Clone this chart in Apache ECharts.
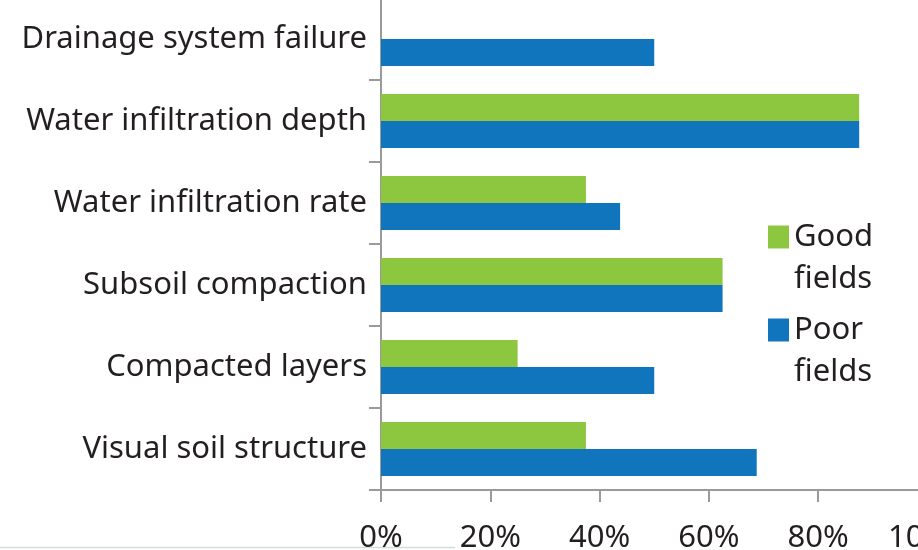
<!DOCTYPE html>
<html>
<head>
<meta charset="utf-8">
<script src="https://cdn.jsdelivr.net/npm/echarts@6/dist/echarts.min.js"></script>
<style>
  html, body { margin: 0; padding: 0; background: #ffffff; }
  #chart { width: 918px; height: 550px; }
</style>
</head>
<body>
<div id="chart"></div>
<script>
// Soil indicators, listed top to bottom
const categories = [
  'Drainage system failure',
  'Water infiltration depth',
  'Water infiltration rate',
  'Subsoil compaction',
  'Compacted layers',
  'Visual soil structure'
];
// Share of fields showing each problem (%)
const goodFields = [null, 87.5, 37.5, 62.5, 25, 37.5];
const poorFields = [50, 87.5, 43.75, 62.5, 50, 68.75];
const xTicks = [0, 20, 40, 60, 80, 100];

const GREEN = '#8DC63F';
const BLUE = '#1075BC';
const TEXT = '#231F20';
const AXIS = '#9a9a9a';
const FONT = '"Noto Sans", "Open Sans", sans-serif';

const chart = echarts.init(document.getElementById('chart'), null, { renderer: 'canvas' });

// Legend labels wrap onto two lines; a leading blank line keeps the
// first word level with the colour swatch.
const legendText = {
  color: TEXT,
  fontFamily: FONT,
  fontSize: 31,
  lineHeight: 42
};
const legendLabel = name => '\n' + name.replace(' ', '\n');

chart.setOption({
  animation: false,
  backgroundColor: '#ffffff',
  textStyle: { fontFamily: FONT },
  grid: {
    left: 381, width: 546.5, top: -2, bottom: 60,
    containLabel: false,
    outerBoundsMode: 'none'
  },
  legend: [
    {
      data: ['Good fields'],
      orient: 'vertical',
      left: 768, top: 174, padding: 0,
      icon: 'rect', itemWidth: 21, itemHeight: 23,
      formatter: legendLabel,
      textStyle: legendText,
      selectedMode: false
    },
    {
      data: ['Poor fields'],
      orient: 'vertical',
      left: 768, top: 267, padding: 0,
      icon: 'rect', itemWidth: 21, itemHeight: 23,
      formatter: legendLabel,
      textStyle: legendText,
      selectedMode: false
    }
  ],
  xAxis: {
    type: 'value',
    min: xTicks[0],
    max: xTicks[xTicks.length - 1],
    interval: 20,
    axisLine: { show: true, lineStyle: { color: AXIS, width: 2 } },
    axisTick: { show: true, length: 12, lineStyle: { color: AXIS, width: 2 } },
    splitLine: { show: false },
    axisLabel: {
      formatter: '{value}%',
      color: TEXT, fontSize: 31, fontFamily: FONT, margin: 33
    }
  },
  yAxis: {
    type: 'category',
    inverse: true,
    data: categories,
    axisLine: { show: true, lineStyle: { color: AXIS, width: 2 } },
    axisTick: { show: true, length: 12, lineStyle: { color: AXIS, width: 2 } },
    axisLabel: { color: TEXT, fontSize: 31, fontFamily: FONT, margin: 14 }
  },
  series: [
    {
      name: 'Good fields', type: 'bar', data: goodFields,
      barWidth: 27, barGap: '0%',
      itemStyle: { color: GREEN }
    },
    {
      name: 'Poor fields', type: 'bar', data: poorFields,
      barWidth: 27, barGap: '0%',
      itemStyle: { color: BLUE }
    }
  ],
  graphic: [
    {
      type: 'line',
      shape: { x1: 0, y1: 547.5, x2: 455, y2: 547.5 },
      style: { stroke: '#cfded6', lineWidth: 1.5 },
      silent: true
    }
  ]
});
</script>
</body>
</html>
